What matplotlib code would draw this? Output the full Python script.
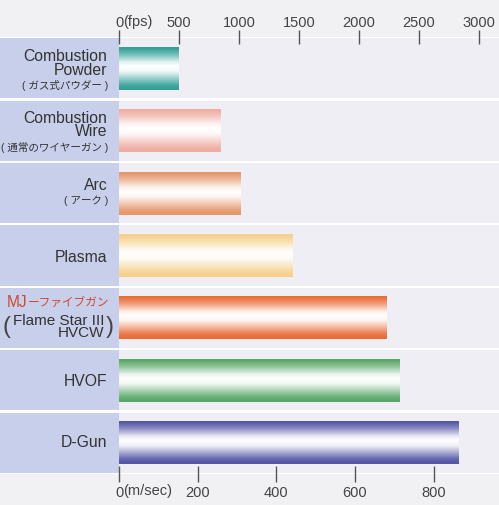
import numpy as np
import matplotlib
matplotlib.use('Agg')
import matplotlib.pyplot as plt
import matplotlib.colors as mcolors
from matplotlib.transforms import blended_transform_factory

plt.rcParams['font.family'] = ['Liberation Sans', 'Noto Sans CJK JP', 'DejaVu Sans']

# ---------------- data ----------------
processes = ['Combustion Powder', 'Combustion Wire', 'Arc', 'Plasma',
             'MJ-Fivegun (Flame Star III HVCW)', 'HVOF', 'D-Gun']
velocity_ms = [152, 257, 310, 440, 681, 714, 862]
bar_colors = ['#2f9f96', '#eeaea2', '#e4966a', '#f5d08a', '#e96b35', '#58a768', '#5355a5']
ms_ticks = [0, 200, 400, 600, 800]
fps_ticks = [0, 500, 1000, 1500, 2000, 2500, 3000]
FPS_PER_MS = 3.28084

label_en = ['Combustion\nPowder', 'Combustion\nWire', 'Arc', 'Plasma',
            'Flame Star III\nHVCW', 'HVOF', 'D-Gun']
label_jp = ['( ガス式パウダー )', '( 通常のワイヤーガン )', '( アーク )', '', '', '', '']
mj_latin = 'MJ'
mj_kana = 'ーファイブガン'

# ---------------- layout / style ----------------
W, H = 499, 505
L, R, T, B = 119, 499, 37, 474
PITCH = (B - T) / 7.0
XMAX = (R - L) / 0.3934

en_offsets = [-4.5, -5.5, -8, 2, 9, 1.5, 0]
jp_offsets = [17, 16.5, 7.5, 0, 0, 0, 0]
mj_offset = -15

fig = plt.figure(figsize=(W / 100, H / 100), dpi=100, facecolor='#f1f1f3')
axl = fig.add_axes([0, 1 - B / H, L / W, (B - T) / H])
ax = fig.add_axes([L / W, 1 - B / H, (R - L) / W, (B - T) / H])
axl.set_zorder(0)
ax.set_zorder(1)

n = len(processes)
ypos = np.arange(n)
row_h = 0.965

# left label panel
axl.set_facecolor('white')
axl.barh(ypos, [1] * n, height=row_h, color='#c8cfeb', zorder=1)
axl.set_xlim(0, 1)
axl.set_ylim(n - 0.5, -0.5)
axl.set_xticks([]); axl.set_yticks([])
for s in axl.spines.values():
    s.set_visible(False)

# main plot panel
ax.set_facecolor('white')
for y in ypos:
    ax.axhspan(y - row_h / 2, y + row_h / 2, color='#efeef5', zorder=0, lw=0)

bar_h = 0.69
bars = ax.barh(ypos, velocity_ms, height=bar_h, color=bar_colors, zorder=2, lw=0)

t = np.linspace(0, 1, 300)
prof = np.interp(t, [0, 0.06, 0.2, 0.36, 0.46, 0.58, 0.72, 0.88, 0.95, 1.0],
                 [0, 0.03, 0.35, 0.85, 1.0, 0.92, 0.55, 0.12, 0.02, 0])
for bar, col in zip(bars, bar_colors):
    c = np.array(mcolors.to_rgb(col))
    img = prof[:, None] + (1 - prof[:, None]) * c[None, :]
    img = np.repeat(img[:, None, :], 2, axis=1)
    x0, y0 = bar.get_x(), bar.get_y()
    w, h = bar.get_width(), bar.get_height()
    im = ax.imshow(img, extent=[x0, x0 + w, y0 + h, y0], origin='upper',
                   aspect='auto', interpolation='bilinear', zorder=3)
    im.set_clip_path(bar)

ax.set_xlim(0, XMAX)
ax.set_ylim(n - 0.5, -0.5)
ax.set_yticks([])
for s in ax.spines.values():
    s.set_visible(False)

ax.set_xticks(ms_ticks)
ax.set_xticklabels([str(v) for v in ms_ticks])
ax.tick_params(axis='x', direction='inout', length=11, width=1, color='#555555',
               labelsize=10.5, labelcolor='#444444', pad=3)

sec = ax.secondary_xaxis('top', functions=(lambda x: x * FPS_PER_MS,
                                           lambda x: x / FPS_PER_MS))
sec.set_xticks(fps_ticks)
sec.set_xticklabels([str(v) for v in fps_ticks])
sec.tick_params(axis='x', direction='inout', length=10, width=1, color='#555555',
                labelsize=10.5, labelcolor='#444444', pad=0)
for s in sec.spines.values():
    s.set_visible(False)

fig.text(123 / W, 1 - 22 / H, '(fps)', ha='left', va='center', fontsize=10.5, color='#444444')
fig.text(123 / W, 1 - 491 / H, '(m/sec)', ha='left', va='center', fontsize=10.5, color='#444444')

# row labels
trans = blended_transform_factory(fig.transFigure, ax.transData)
XR = 107.5 / W
XR_JP = 108.5 / W
renderer = fig.canvas.get_renderer()
for i in range(n):
    xr = 104.5 / W if i == 4 else XR
    fs = 11.0 if i == 4 else 11.3
    ax.text(xr, i + en_offsets[i] / PITCH, label_en[i], transform=trans,
            ha='right', va='center', multialignment='right', linespacing=0.88,
            fontsize=fs, color='#333333', clip_on=False, zorder=5)
    if label_jp[i]:
        ax.text(XR_JP, i + jp_offsets[i] / PITCH, label_jp[i], transform=trans,
                ha='right', va='center', fontsize=7.6, color='#333333',
                family=['Liberation Sans', 'Noto Sans CJK JP'], clip_on=False, zorder=5)

# "MJーファイブガン" in red: kana part, then "MJ" to its left
mj_y = 4 + mj_offset / PITCH
kt = ax.text(109 / W, mj_y, mj_kana, transform=trans, ha='right', va='center',
             fontsize=8.4, color='#cc4a2e', family=['Noto Sans CJK JP'],
             clip_on=False, zorder=5)
kw = kt.get_window_extent(renderer).width
ax.text(109 / W - kw / W, mj_y, mj_latin, transform=trans, ha='right',
        va='center', fontsize=11.2, color='#cc4a2e', clip_on=False, zorder=5)

# tall parentheses around "Flame Star III / HVCW"
ymid = 4 + 9 / PITCH
ax.text(7 / W, ymid, '(', transform=trans, ha='center', va='center',
        fontsize=17, color='#444444', clip_on=False, zorder=5)
ax.text(109.5 / W, ymid, ')', transform=trans, ha='center', va='center',
        fontsize=17, color='#444444', clip_on=False, zorder=5)

fig.savefig('out.png', dpi=100, facecolor=fig.get_facecolor())
